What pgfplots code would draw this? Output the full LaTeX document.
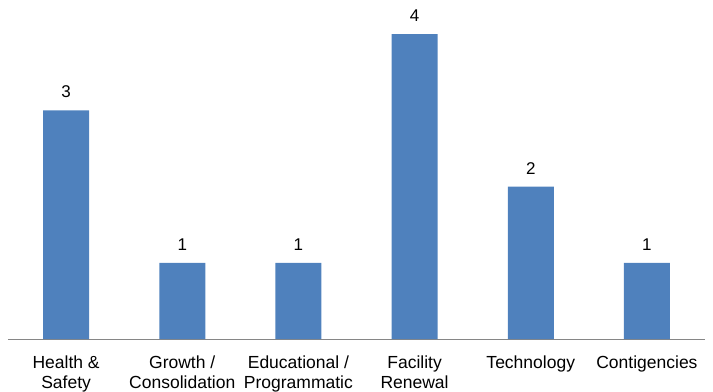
\documentclass[border=0pt]{standalone}
\usepackage{pgfplots}
\pgfplotsset{compat=1.18}
\usepackage{fontspec}
\setmainfont{Liberation Sans}
\definecolor{barblue}{HTML}{4F81BD}
\definecolor{axisgray}{HTML}{868686}
\begin{document}
\begin{tikzpicture}
\begin{axis}[
  scale only axis,
  width=697pt, height=339pt,
  xmin=-0.5, xmax=5.5,
  ymin=0, ymax=4.446,
  axis x line*=bottom,
  axis y line=none,
  x axis line style={axisgray, line width=1pt, -},
  xtick=data,
  xticklabels={Health \&\\Safety, Growth /\\Consolidation, Educational /\\Programmatic, Facility\\Renewal, Technology, Contigencies},
  major tick length=0pt,
  xticklabel style={font=\fontsize{17.5}{20}\selectfont, align=center, yshift=-13pt},
  ybar, bar width=46pt,
  /pgf/number format/assume math mode=true,
  nodes near coords,
  nodes near coords style={font=\fontsize{17}{20}\selectfont, anchor=south, inner sep=0pt, yshift=12pt},
  clip=false,
]
\addplot[fill=barblue, draw=none] coordinates {(0,3) (1,1) (2,1) (3,4) (4,2) (5,1)};
\end{axis}
\pgfresetboundingbox
\path (current axis.south west) ++(-8pt,-52pt);
\path (current axis.north east) ++(8pt,0pt);
\end{tikzpicture}
\end{document}
